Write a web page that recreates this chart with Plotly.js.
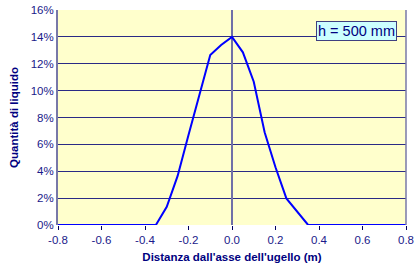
<!DOCTYPE html>
<html>
<head>
<meta charset="utf-8">
<script src="https://cdn.plot.ly/plotly-3.0.1.min.js"></script>
<style>html,body{margin:0;padding:0;background:#fff;}#chart{width:414px;height:276px;}</style>
</head>
<body>
<div id="chart"></div>
<script>
const distanza = [-0.8, -0.35, -0.3, -0.25, -0.2, -0.15, -0.1, -0.05, 0, 0.05, 0.1, 0.15, 0.2, 0.25, 0.35, 0.8];
const quantita = [0, 0, 0.0135, 0.0365, 0.067, 0.097, 0.1265, 0.134, 0.14, 0.1285, 0.1066, 0.069, 0.043, 0.0198, 0, 0];
const xTicks = [-0.8, -0.6, -0.4, -0.2, 0, 0.2, 0.4, 0.6, 0.8];
const xTickLabels = ['-0.8', '-0.6', '-0.4', '-0.2', '0.0', '0.2', '0.4', '0.6', '0.8'];
const yTicks = [0, 0.02, 0.04, 0.06, 0.08, 0.10, 0.12, 0.14, 0.16];
const yTickLabels = ['0%', '2%', '4%', '6%', '8%', '10%', '12%', '14%', '16%'];
const labelText = 'h = 500 mm';
const xTitle = "Distanza dall'asse dell'ugello (m)";
const yTitle = 'Quantità di liquido';

const navy = '#1a1a8a';
const trace = {
  x: distanza, y: quantita, type: 'scatter', mode: 'lines',
  line: {color: '#0000ff', width: 2}, hoverinfo: 'none', cliponaxis: false
};
const layout = {
  width: 414, height: 276,
  margin: {l: 58, r: 8, t: 10, b: 51},
  paper_bgcolor: '#ffffff', plot_bgcolor: '#ffffcc',
  showlegend: false,
  font: {family: 'Liberation Sans, Arial, sans-serif', size: 11, color: navy},
  xaxis: {
    range: [-0.8, 0.8], tickvals: xTicks, ticktext: xTickLabels,
    showgrid: false, zeroline: true, zerolinecolor: '#7070a8', zerolinewidth: 2,
    ticks: 'outside', ticklen: 4, tickcolor: '#000060', tickwidth: 1,
    showline: false, fixedrange: true,
    tickfont: {size: 11.5, color: navy},
    title: {text: xTitle, font: {size: 11.5, color: '#000080', weight: 'bold'}, standoff: 8}
  },
  yaxis: {
    range: [0, 0.16], tickvals: yTicks, ticktext: yTickLabels,
    showgrid: true, gridcolor: '#2a2a85', gridwidth: 1,
    zeroline: false, showline: true, linecolor: '#7878a8', linewidth: 2,
    mirror: false, ticks: '', fixedrange: true,
    tickfont: {size: 11.5, color: navy},
    title: {text: yTitle, font: {size: 11.5, color: '#000080', weight: 'bold'}, standoff: 10}
  },
  shapes: [
    {type: 'line', xref: 'paper', yref: 'paper', x0: 1, x1: 1, y0: 0, y1: 1,
     line: {color: '#7878a8', width: 1.5}}
  ],
  annotations: [{
    text: labelText, xref: 'paper', yref: 'paper', x: 0.975, y: 0.95,
    xanchor: 'right', yanchor: 'top', showarrow: false,
    font: {size: 14.5, color: '#000080', family: 'Liberation Sans, Arial, sans-serif'},
    bgcolor: '#ccffff', bordercolor: '#404080', borderwidth: 1, borderpad: 1
  }]
};
Plotly.newPlot('chart', [trace], layout, {displayModeBar: false, staticPlot: true});
</script>
</body>
</html>
